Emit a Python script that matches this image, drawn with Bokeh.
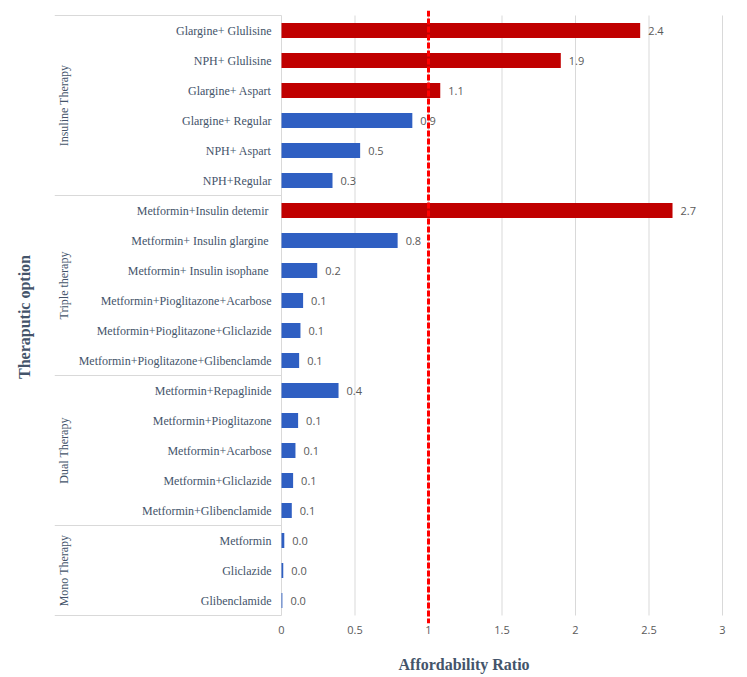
import math
from bokeh.plotting import figure
from bokeh.models import Range1d, FixedTicker, NumeralTickFormatter, Span, Title, ColumnDataSource
from bokeh.core.properties import value
from bokeh.embed import file_html
from bokeh.resources import INLINE

# ---------------- data ----------------
group_names = ["Insuline Therapy", "Triple therapy", "Dual Therapy", "Mono Therapy"]

insulin_options = ["Glargine+ Glulisine", "NPH+ Glulisine", "Glargine+ Aspart",
                   "Glargine+ Regular", "NPH+ Aspart", "NPH+Regular"]
insulin_values = [2.44, 1.90, 1.08, 0.89, 0.535, 0.347]

triple_options = ["Metformin+Insulin  detemir", "Metformin+ Insulin  glargine",
                  "Metformin+ Insulin  isophane", "Metformin+Pioglitazone+Acarbose",
                  "Metformin+Pioglitazone+Gliclazide", "Metformin+Pioglitazone+Glibenclamde"]
triple_values = [2.66, 0.79, 0.243, 0.147, 0.129, 0.12]

dual_options = ["Metformin+Repaglinide", "Metformin+Pioglitazone", "Metformin+Acarbose",
                "Metformin+Gliclazide", "Metformin+Glibenclamide"]
dual_values = [0.388, 0.113, 0.095, 0.079, 0.07]

mono_options = ["Metformin", "Gliclazide", "Glibenclamide"]
mono_values = [0.019, 0.012, 0.006]

x_ticks = [0, 0.5, 1, 1.5, 2, 2.5, 3]
threshold = 1.0
x_title = "Affordability Ratio"
y_title = "Theraputic option"

# ---------------- layout constants (pixels) ----------------
W, H = 739, 677
PX_PER_UNIT = 147.0
ZERO_PX = 281.0        # x-pixel of value 0
FRAME_LEFT = 54.0
FRAME_RIGHT = 730.0
ROW_PX = 30.0
FRAME_TOP = 10.0
TOP_EXTRA = 5.0
BOTTOM_EXTRA = 8.0
XTITLE_LEFT = 398.0

option_lists = [insulin_options, triple_options, dual_options, mono_options]
value_lists = [insulin_values, triple_values, dual_values, mono_values]

options, values = [], []
for o, v in zip(option_lists, value_lists):
    options += o
    values += v
n = len(options)
idx = list(range(n))

x_start = (FRAME_LEFT - ZERO_PX) / PX_PER_UNIT
x_end = (FRAME_RIGHT - ZERO_PX) / PX_PER_UNIT
y_top = -0.5 - TOP_EXTRA / ROW_PX
y_bot = n - 0.5 + BOTTOM_EXTRA / ROW_PX
frame_h = (y_bot - y_top) * ROW_PX

RED = "#C00000"
BLUE = "#2F5FC2"
colors = [RED if v > threshold else BLUE for v in values]
labels = [f"{v:.1f}" for v in values]

p = figure(width=W, height=H, x_range=Range1d(x_start, x_end), y_range=Range1d(y_bot, y_top),
           output_backend="svg", toolbar_location=None,
           min_border_left=int(FRAME_LEFT), min_border_right=int(W - FRAME_RIGHT),
           min_border_top=int(FRAME_TOP), min_border_bottom=int(round(H - FRAME_TOP - frame_h)))
p.outline_line_color = None
p.xgrid.visible = False
p.ygrid.visible = False
p.background_fill_color = "white"
p.border_fill_color = "white"

TEXT_COLOR = "#44546A"
SERIF = "Liberation Serif"

# grid lines (only over the value region)
p.segment(x0=x_ticks, x1=x_ticks, y0=[-0.5] * len(x_ticks), y1=[n - 0.5] * len(x_ticks),
          line_color="#D9D9D9", line_width=1)

# group separators
bounds = [-0.5]
for o in option_lists:
    bounds.append(bounds[-1] + len(o))
p.segment(x0=[x_start] * len(bounds), x1=[0] * len(bounds), y0=bounds, y1=bounds,
          line_color="#D9D9D9", line_width=1)

# bars
src = ColumnDataSource(dict(y=idx, v=values, c=colors, lab=labels, opt=options, zero=[0] * n))
p.hbar(y="y", left=0, right="v", height=0.5, fill_color="c", line_color=None, source=src)

# value labels
p.text(x="v", y="y", text="lab", source=src, x_offset=8, text_align="left", text_baseline="middle",
       text_font=value("Open Sans"), text_font_size="11px", text_color="#595959")

# category labels
p.text(x="zero", y="y", text="opt", source=src, x_offset=-10, text_align="right",
       text_baseline="middle", text_font=value(SERIF), text_font_size="12px", text_color=TEXT_COLOR)

# group labels (rotated)
g_x = (63.0 - ZERO_PX) / PX_PER_UNIT
g_y = [(bounds[i] + bounds[i + 1]) / 2 for i in range(len(group_names))]
p.text(x=[g_x] * len(group_names), y=g_y, text=group_names, angle=math.pi / 2,
       text_align="center", text_baseline="middle", text_font=value(SERIF),
       text_font_size="12px", text_color=TEXT_COLOR)

# threshold line
p.add_layout(Span(location=threshold, dimension="height", line_color="#FF0000",
                  line_width=3, line_dash="6 2"))

# x axis
xa = p.xaxis[0]
xa.ticker = FixedTicker(ticks=x_ticks)
xa.formatter = NumeralTickFormatter(format="0.[0]")
xa.axis_line_color = None
xa.major_tick_line_color = None
xa.major_tick_out = 0
xa.major_tick_in = 0
xa.minor_tick_line_color = None
xa.major_label_standoff = 2
xa.major_label_text_font = "Open Sans"
xa.major_label_text_font_size = "11px"
xa.major_label_text_color = "#595959"

# x title (leading blank line pushes the text down into the bottom margin)
p.add_layout(Title(text="\n" + x_title, align="left", offset=XTITLE_LEFT - FRAME_LEFT, standoff=0,
                   text_font=SERIF, text_font_style="bold", text_font_size="16px",
                   text_line_height=1.0, text_color=TEXT_COLOR), "below")

# y axis (title only)
ya = p.yaxis[0]
ya.ticker = FixedTicker(ticks=[])
ya.axis_line_color = None
ya.major_tick_line_color = None
ya.major_tick_out = 0
ya.major_tick_in = 0
ya.minor_tick_line_color = None
ya.major_label_text_font_size = "0px"
ya.major_label_standoff = 0
ya.axis_label = y_title
ya.axis_label_text_font = SERIF
ya.axis_label_text_font_style = "bold"
ya.axis_label_text_font_size = "16px"
ya.axis_label_text_color = TEXT_COLOR
ya.axis_label_standoff = 22

open("out.html", "w").write(file_html(p, INLINE))
